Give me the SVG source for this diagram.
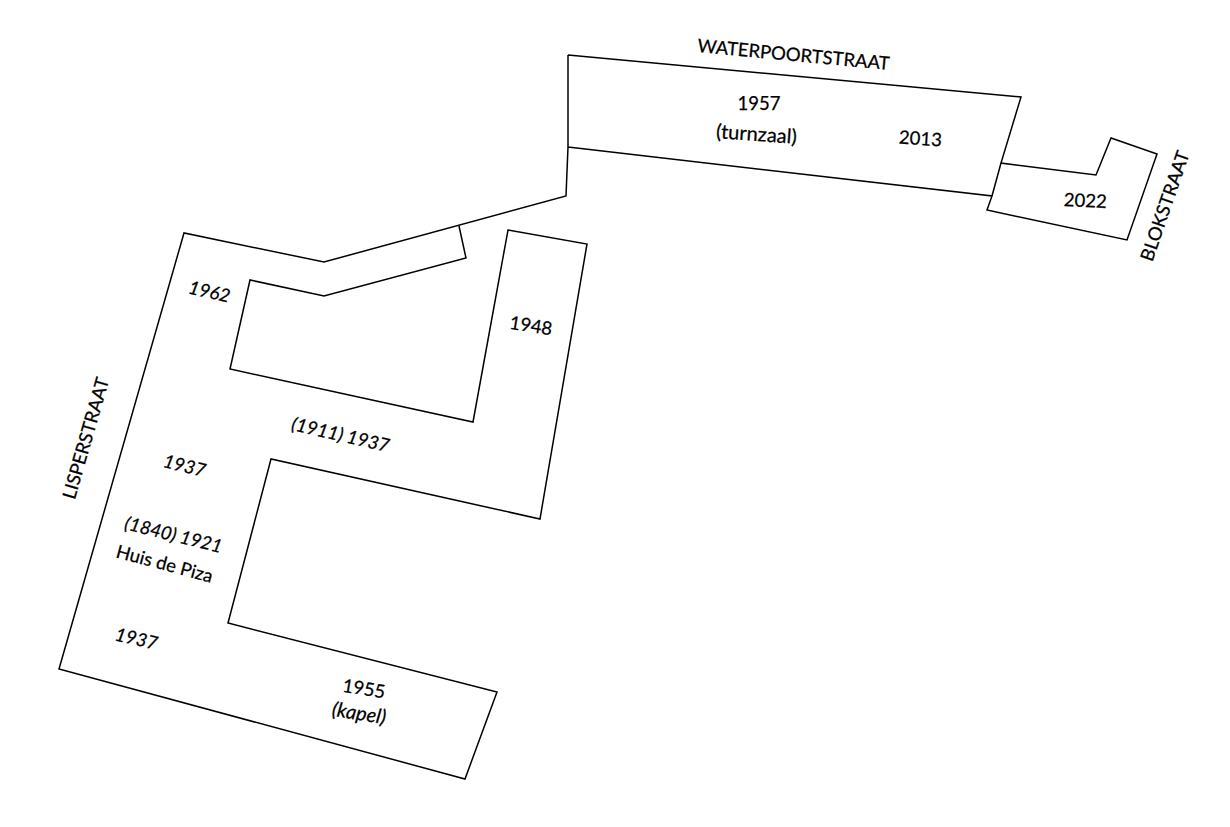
<svg xmlns="http://www.w3.org/2000/svg" width="1230" height="827" viewBox="0 0 1230 827">
<style>
.l{fill:none;stroke:#000;stroke-width:1.5;stroke-linejoin:miter}
text{font-family:"Lato","Open Sans",sans-serif;font-size:18.5px;fill:#000;stroke:#000;stroke-width:.25;text-anchor:middle}
.i{font-style:italic}
.b{font-size:20px}
</style>
<rect width="1230" height="827" fill="#fff"/>
<path class="l" d="M568 55L1021 97L1001 163L1096 175L1111 138L1157 154L1127 240L987 210L992 196L568 147M568 55L568 147L566 196L324 262L184 233L59 669L465 779L497 692L228 623L271 459L540 519L587 244L508 230L473 422L230 369L250 280L324 296L466 258L459 226M1001 163L992 196"/>
<text transform="translate(793 61) rotate(5.3)">WATERPOORTSTRAAT</text>
<text x="759" y="110">1957</text>
<text class="b" transform="translate(756 141) rotate(4)">(turnzaal)</text>
<text transform="translate(920 145) rotate(4)">2013</text>
<text transform="translate(1085 207) rotate(3)">2022</text>
<text transform="translate(1171 208) rotate(-71)">BLOKSTRAAT</text>
<text class="i" transform="translate(208 298) rotate(13)">1962</text>
<text transform="translate(530 332) rotate(9)">1948</text>
<text class="i" transform="translate(339 441) rotate(13)">(1911) 1937</text>
<text class="i" transform="translate(183 472) rotate(14)">1937</text>
<text class="i" transform="translate(172 541) rotate(14)">(1840) 1921</text>
<text transform="translate(163 570) rotate(15)">Huis de Piza</text>
<text class="i" transform="translate(135 645) rotate(13)">1937</text>
<text transform="translate(363 695) rotate(9)">1955</text>
<text class="b i" transform="translate(358 720) rotate(9)">(kapel)</text>
<text transform="translate(92 440) rotate(-74)">LISPERSTRAAT</text>
</svg>
